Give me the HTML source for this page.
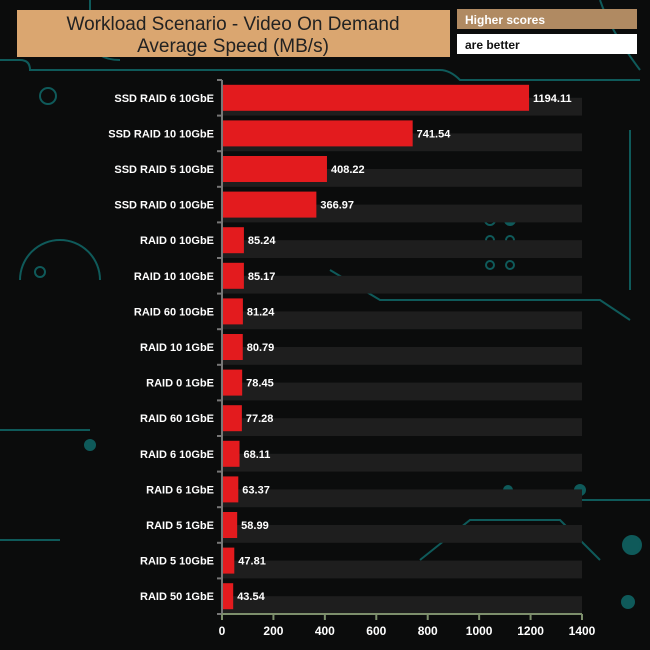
<!DOCTYPE html>
<html><head><meta charset="utf-8"><style>
body{margin:0;background:#0b0c0c;}
svg{display:block;font-family:"Liberation Sans",Arial,sans-serif;}
</style></head><body>
<svg id="c" width="650" height="650" viewBox="0 0 650 650">
<rect width="650" height="650" fill="#0b0c0c"/>
<g stroke="#0f5a5a" stroke-width="2" fill="none">
<path d="M0 60 H20 Q30 60 30 70 H440 Q450 70 460 80 H640"/>
<path d="M90 0 V40 Q95 60 120 60"/>
<path d="M600 0 Q610 30 640 70"/>
<path d="M20 280 A40 40 0 0 1 100 280"/>
<path d="M0 430 H90"/>
<path d="M0 540 H60"/>
<path d="M330 270 L380 300 H600 L630 320"/>
<path d="M580 500 H650"/>
<path d="M420 560 L470 520 H560 L600 560"/>
<path d="M630 130 V290"/>
<circle cx="48" cy="96" r="8"/>
<circle cx="40" cy="272" r="5"/>
<circle cx="632" cy="545" r="9" fill="#0f5a5a"/>
<circle cx="628" cy="602" r="6" fill="#0f5a5a"/>
<circle cx="90" cy="445" r="5" fill="#0f5a5a"/>
<circle cx="490" cy="220" r="5"/><circle cx="510" cy="220" r="5" fill="#0f5a5a"/>
<circle cx="490" cy="240" r="4"/><circle cx="510" cy="240" r="4"/>
<circle cx="490" cy="265" r="4"/><circle cx="510" cy="265" r="4"/>
<circle cx="580" cy="490" r="5" fill="#0f5a5a"/><circle cx="508" cy="490" r="4" fill="#0f5a5a"/>
</g>
<rect x="17" y="10" width="433" height="47" fill="#daa670"/>
<text x="233" y="30" text-anchor="middle" font-size="19" fill="#222">Workload Scenario - Video On Demand</text>
<text x="233" y="52" text-anchor="middle" font-size="19" fill="#222">Average Speed (MB/s)</text>
<rect x="457" y="9" width="180" height="20" fill="#b08a62"/>
<text x="465" y="24" font-size="12" font-weight="bold" fill="#fff">Higher scores</text>
<rect x="457" y="34" width="180" height="20" fill="#fff"/>
<text x="465" y="49" font-size="12" font-weight="bold" fill="#111">are better</text>
<g id="plot"></g>
</svg>
<script>
const categories=["SSD RAID 6 10GbE","SSD RAID 10 10GbE","SSD RAID 5 10GbE","SSD RAID 0 10GbE","RAID 0 10GbE","RAID 10 10GbE","RAID 60 10GbE","RAID 10 1GbE","RAID 0 1GbE","RAID 60 1GbE","RAID 6 10GbE","RAID 6 1GbE","RAID 5 1GbE","RAID 5 10GbE","RAID 50 1GbE"];
const values=[1194.11,741.54,408.22,366.97,85.24,85.17,81.24,80.79,78.45,77.28,68.11,63.37,58.99,47.81,43.54];
const labels=["1194.11","741.54","408.22","366.97","85.24","85.17","81.24","80.79","78.45","77.28","68.11","63.37","58.99","47.81","43.54"];
const ticks=[0,200,400,600,800,1000,1200,1400];
const NS="http://www.w3.org/2000/svg";
const g=document.getElementById('plot');
const x0=222,x1=582,yTop=80,yBot=614;
const slot=(yBot-yTop)/categories.length;
const xs=v=>x0+v/1400*(x1-x0);
const ys=i=>yTop+i*slot;
function mk(t,a){const e=document.createElementNS(NS,t);for(const k in a)e.setAttribute(k,a[k]);g.appendChild(e);return e;}
categories.forEach((c,i)=>{
 const b=mk('rect',{x:x0,y:ys(i)+slot/2,width:x1-x0,height:slot/2,fill:'#1e1e1e'});
 
 
});
categories.forEach((c,i)=>{
 const cy=ys(i)+slot/2;
 const r=mk('rect',{x:x0,y:cy-13,width:xs(values[i])-x0,height:26,fill:'#e31b1e'});
 
 
 const t=mk('text',{x:xs(values[i])+4,y:cy+4,'font-size':11,'font-weight':'bold',fill:'#fff'});
 t.textContent=labels[i];
 
 
 const l=mk('text',{x:x0-8,y:cy+4,'text-anchor':'end','font-size':11,'font-weight':'bold',fill:'#fff'});
 l.textContent=c;
 
 
});
for(let i=0;i<=categories.length;i++){
 const tk=mk('line',{x1:x0-5,x2:x0,y1:ys(i),y2:ys(i),stroke:'#777','stroke-width':2});
 
 
}
const ya=mk('line',{x1:x0,x2:x0,y1:yTop,y2:yBot,stroke:'#777','stroke-width':2});


const xa=mk('line',{x1:x0,x2:x1,y1:yBot,y2:yBot,stroke:'#7d8f6c','stroke-width':2});


ticks.forEach(v=>{
 const tk=mk('line',{x1:xs(v),x2:xs(v),y1:yBot,y2:yBot+6,stroke:'#7d8f6c','stroke-width':2});
 
 
 const t=mk('text',{x:xs(v),y:yBot+21,'text-anchor':'middle','font-size':12,'font-weight':'bold',fill:'#fff'});
 t.textContent=v;
 
 
});
</script>
</body></html>
